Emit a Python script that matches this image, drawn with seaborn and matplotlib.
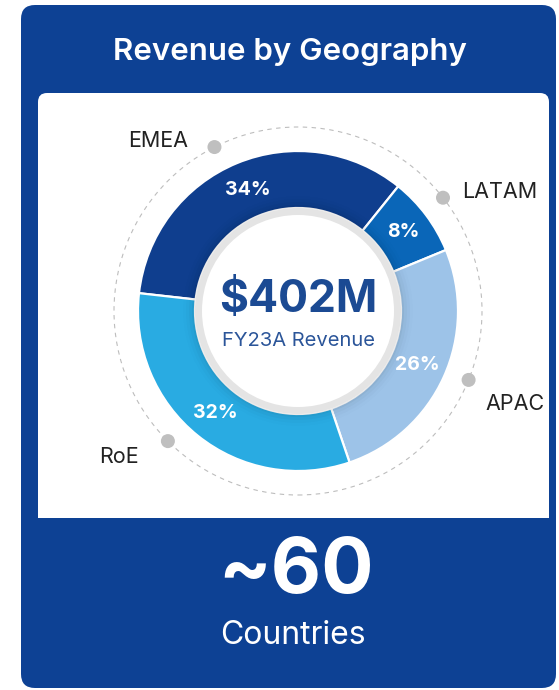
import numpy as np
import matplotlib
matplotlib.use("Agg")
from matplotlib import pyplot as plt
from matplotlib.patches import FancyBboxPatch, Rectangle, Circle, Wedge
import seaborn as sns

# Chart data
regions = ["EMEA", "LATAM", "APAC", "RoE"]
share = [34, 8, 26, 32]
region_colors = ["#0F3E8E", "#0A66B8", "#9DC3E8", "#29ABE2"]
total_label = "$402M"
total_caption = "FY23A Revenue"
country_count = "~60"
country_caption = "Countries"
title = "Revenue by Geography"

# Layout (pixels, y measured from the top)
W, H = 559, 690
card_blue = "#0D4194"
cx, cy = 298, H - 311
r_outer, r_inner = 160, 103
r_callout = 184
callout_deg = [117, 38, -22, -135]
label_offset = [(-56, 6, "center"), (19, 6, "left"), (17, -24, "left"), (-29, -16, "right")]

sns.set_theme(style="white")
plt.rcParams["font.family"] = ["Inter", "DejaVu Sans"]

fig = plt.figure(figsize=(W / 100, H / 100), dpi=100)
ax = fig.add_axes([0, 0, 1, 1])

# card + white panel
ax.add_patch(FancyBboxPatch((21, H - 688), 535, 683,
                            boxstyle="round,pad=0,rounding_size=14",
                            fc=card_blue, ec="none", zorder=0))
ax.add_patch(FancyBboxPatch((38, H - 518), 511, 425,
                            boxstyle="round,pad=0,rounding_size=9",
                            fc="white", ec="none", zorder=1))
ax.add_patch(Rectangle((38, H - 518), 511, 40, fc="white", ec="none", zorder=1))

# dashed guide circle
ax.add_patch(Circle((cx, cy), r_callout, fill=False, ec="#BDBDBD", lw=0.8,
                    ls=(0, (4, 4)), zorder=2))

# donut
wedges, texts, autotexts = ax.pie(
    share, colors=region_colors, startangle=173.6, counterclock=False,
    radius=r_outer, center=(cx, cy), frame=True,
    wedgeprops=dict(width=r_outer - r_inner, edgecolor="white", linewidth=1.6),
    autopct=lambda p: f"{p:.0f}%", pctdistance=0.82,
    textprops=dict(color="white", fontsize=14, fontweight="bold"))
for w in wedges:
    w.set_zorder(3)
for t in autotexts:
    t.set_zorder(6)

# soft shadow inside the ring
for k, a in enumerate([0.08, 0.05, 0.03, 0.015]):
    ax.add_patch(Wedge((cx, cy), r_inner + 3 * (k + 1), 0, 360, width=3 * (k + 1),
                       fc="black", alpha=a / 2, ec="none", zorder=4))
ax.add_patch(Circle((cx, cy), r_inner, fc="#E4E4E4", ec="none", zorder=5))
ax.add_patch(Circle((cx, cy), r_inner - 7, fc="white", ec="none", zorder=5))

# callouts
for name, deg, (dx, dy, ha) in zip(regions, callout_deg, label_offset):
    px = cx + r_callout * np.cos(np.radians(deg))
    py = cy + r_callout * np.sin(np.radians(deg))
    ax.add_patch(Circle((px, py), 7, fc="#BFBFBF", ec="none", zorder=6))
    ax.text(px + dx, py + dy, name, ha=ha, va="center", fontsize=15.5,
            color="#222222", zorder=7)

# centre text
ax.text(cx, H - 300, total_label, ha="center", va="center", fontsize=32,
        fontweight="bold", color="#1B4A93", zorder=7)
ax.text(cx, H - 341, total_caption, ha="center", va="center", fontsize=14.5,
        color="#2B5599", zorder=7)

# headline texts
ax.text(290, H - 52, title, ha="center", va="center", fontsize=22.5,
        fontweight="semibold", color="white", zorder=7)
ax.text(296, H - 572, country_count, ha="center", va="center", fontsize=56,
        fontweight="bold", color="white", zorder=7)
ax.text(293, H - 636, country_caption, ha="center", va="center", fontsize=23,
        color="white", zorder=7)

ax.set_xlim(0, W)
ax.set_ylim(0, H)
ax.set_aspect("equal")
ax.axis("off")
fig.savefig("out.png", dpi=100, facecolor="white")
